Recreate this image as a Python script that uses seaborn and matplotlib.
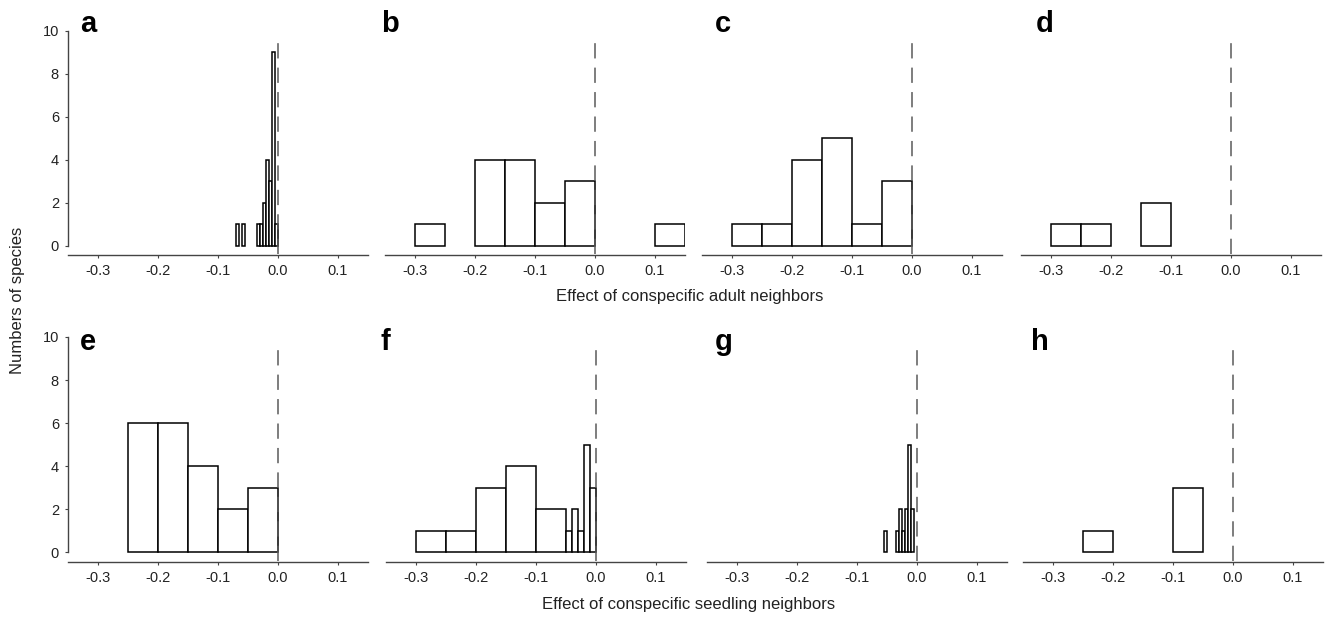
import matplotlib
matplotlib.use("Agg")
import matplotlib.pyplot as plt
import seaborn as sns

# ---------------------------------------------------------
# Histogram data: bin edges + counts per panel
# ---------------------------------------------------------
a_edges = [-0.070, -0.065, -0.060, -0.055, -0.035, -0.030, -0.025, -0.020, -0.015, -0.010, -0.005, 0.0]
a_counts = [1, 0, 1, 0, 1, 1, 2, 4, 3, 9, 1]

b_edges = [-0.30, -0.25, -0.20, -0.15, -0.10, -0.05, 0.0, 0.05, 0.10, 0.15]
b_counts = [1, 0, 4, 4, 2, 3, 0, 0, 1]

c_edges = [-0.30, -0.25, -0.20, -0.15, -0.10, -0.05, 0.0]
c_counts = [1, 1, 4, 5, 1, 3]

d_edges = [-0.30, -0.25, -0.20, -0.15, -0.10]
d_counts = [1, 1, 0, 2]

e_edges = [-0.25, -0.20, -0.15, -0.10, -0.05, 0.0]
e_counts = [6, 6, 4, 2, 3]

f_edges = [-0.30, -0.25, -0.20, -0.15, -0.10, -0.05, -0.04, -0.03, -0.02, -0.01, 0.0]
f_counts = [1, 1, 3, 4, 2, 1, 2, 1, 5, 3]

g_edges = [-0.055, -0.050, -0.035, -0.030, -0.025, -0.020, -0.015, -0.010, -0.005]
g_counts = [1, 0, 1, 2, 1, 2, 5, 2]

h_edges = [-0.25, -0.20, -0.15, -0.10, -0.05]
h_counts = [1, 0, 0, 3]

panel_letters = ['a', 'b', 'c', 'd', 'e', 'f', 'g', 'h']
x_ticks = [-0.3, -0.2, -0.1, 0.0, 0.1]
x_tick_labels = ['-0.3', '-0.2', '-0.1', '0.0', '0.1']
y_ticks = [0, 2, 4, 6, 8, 10]
row_xlabels = ['Effect of conspecific adult neighbors', 'Effect of conspecific seedling neighbors']
y_label = 'Numbers of species'

panels = [
    (a_edges, a_counts), (b_edges, b_counts), (c_edges, c_counts), (d_edges, d_counts),
    (e_edges, e_counts), (f_edges, f_counts), (g_edges, g_counts), (h_edges, h_counts),
]

# ---------------------------------------------------------
# Style / layout
# ---------------------------------------------------------
sns.set_theme(style="white")
plt.rcParams['font.family'] = ['Liberation Sans', 'DejaVu Sans']

W, H = 1326, 617
fig = plt.figure(figsize=(W / 100, H / 100), dpi=100)

lefts_px = [[68, 384.7, 701.5, 1021], [68, 385.7, 707, 1023]]
tops_px = [30.7, 337]        # pixel row of y = 10
bottoms_px = [255.4, 561.7]  # pixel row of the x axis
width_px = 300
letter_x_px = [[80, 381, 715, 1036], [80, 381, 715, 1031]]
letter_base_px = [32, 350]

spine_col = '#444444'
tick_col = '#222222'

for i, (edges, counts) in enumerate(panels):
    r, c = divmod(i, 4)
    top, bot = tops_px[r], bottoms_px[r]
    ax = fig.add_axes([lefts_px[r][c] / W, 1 - bot / H, width_px / W, (bot - top) / H])

    mids = [(lo + hi) / 2 for lo, hi in zip(edges[:-1], edges[1:])]
    sns.histplot(x=mids, weights=counts, bins=edges, ax=ax,
                 color='white', edgecolor='black', linewidth=1.1, alpha=1)
    # drop empty bins so no stray baseline segments are drawn
    for p in list(ax.patches):
        if p.get_height() == 0:
            p.remove()

    ax.plot([0, 0], [-0.4, 9.75], color='#5a5a5a', lw=1.1, ls=(0, (10, 6)), zorder=3)

    ax.set_xlim(-0.35, 0.15)
    ax.set_ylim(-0.45, 10)
    ax.set_xlabel('')
    ax.set_ylabel('')
    ax.set_xticks(x_ticks)
    ax.set_xticklabels(x_tick_labels)
    ax.tick_params(axis='x', length=2.5, width=0.8, color=spine_col, pad=4,
                   labelsize=10.5, labelcolor=tick_col, bottom=True)

    for s in ['top', 'right']:
        ax.spines[s].set_visible(False)
    ax.spines['bottom'].set_color(spine_col)
    ax.spines['bottom'].set_linewidth(1.0)
    if c == 0:
        ax.spines['left'].set_bounds(0, 10)
        ax.spines['left'].set_color(spine_col)
        ax.spines['left'].set_linewidth(1.0)
        ax.set_yticks(y_ticks)
        ax.tick_params(axis='y', length=2.5, width=0.8, color=spine_col, pad=4,
                       labelsize=10.5, labelcolor=tick_col, left=True)
    else:
        ax.spines['left'].set_visible(False)
        ax.set_yticks([])
    ax.grid(False)

    fig.text(letter_x_px[r][c] / W, 1 - letter_base_px[r] / H, panel_letters[i],
             fontsize=21, fontweight='bold', color='black', ha='left', va='baseline')

fig.text(690 / W, 1 - 297 / H, row_xlabels[0], fontsize=12, color=tick_col, ha='center', va='center')
fig.text(689 / W, 1 - 605 / H, row_xlabels[1], fontsize=12, color=tick_col, ha='center', va='center')
fig.text(18 / W, 1 - 300 / H, y_label, fontsize=12, color=tick_col, rotation=90, ha='center', va='center')

plt.savefig('out.png', dpi=100)
plt.close()
